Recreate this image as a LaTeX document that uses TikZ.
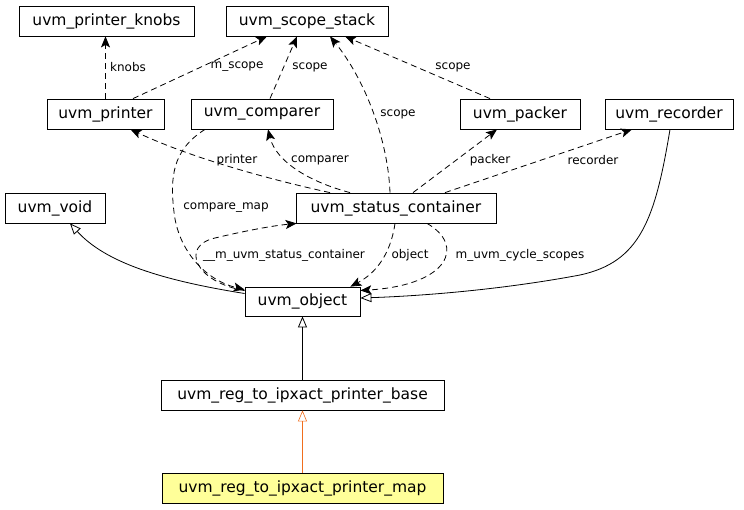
\documentclass[tikz,border=0pt]{standalone}
\usepackage{fontspec}
\setmainfont{DejaVu Sans}
\usetikzlibrary{arrows.meta}
\definecolor{mapfill}{RGB}{255,255,153}
\definecolor{inhorange}{RGB}{240,110,30}

\begin{document}
\begin{tikzpicture}[x=1pt, y=-1pt,
        cls/.style={draw, rectangle, fill=white, minimum height=30pt, inner sep=0pt, line width=0.8pt, font=\fontsize{15.5}{18}\selectfont},
        lbl/.style={inner sep=1pt, font=\fontsize{12}{14}\selectfont},
        member/.style={draw, line width=0.8pt, dash pattern=on 6pt off 4pt, -{Stealth[length=11pt, width=9pt, inset=2.5pt]}},
        inherit/.style={draw, line width=0.8pt, -{Triangle[open, length=11pt, width=9pt]}}]

        \useasboundingbox (0,0) rectangle (744,509);

        % classes
        \node [cls, minimum width=175pt] (knobs) at (106.5,21) {uvm\_printer\_knobs};
        \node [cls, minimum width=162pt] (scopestack) at (307,21) {uvm\_scope\_stack};
        \node [cls, minimum width=117pt] (printer) at (105.5,114) {uvm\_printer};
        \node [cls, minimum width=142pt] (comparer) at (262,114) {uvm\_comparer};
        \node [cls, minimum width=120pt] (packer) at (520,114) {uvm\_packer};
        \node [cls, minimum width=128pt] (recorder) at (669,114) {uvm\_recorder};
        \node [cls, minimum width=100pt] (void) at (55,208) {uvm\_void};
        \node [cls, minimum width=200pt] (status) at (396,208) {uvm\_status\_container};
        \node [cls, minimum width=115pt, minimum height=29pt] (object) at (302.5,301.5) {uvm\_object};
        \node [cls, minimum width=283pt] (base) at (302.5,395) {uvm\_reg\_to\_ipxact\_printer\_base};
        \node [cls, minimum width=281pt, fill=mapfill] (map) at (302.5,488) {uvm\_reg\_to\_ipxact\_printer\_map};

        % members
        \path [member] (printer.north) -- (printer.north |- knobs.south);
        \path [member] ([xshift=27.5pt]printer.north) -- ([xshift=-40pt]scopestack.south);
        \path [member] ([xshift=8pt]comparer.north) -- ([xshift=-10pt]scopestack.south);
        \path [member] ([xshift=-30pt]packer.north) -- ([xshift=38pt]scopestack.south);
        \path [member] ([xshift=-6pt]status.north) .. controls +(-2,-53) and +(35,43) .. ([xshift=23pt]scopestack.south);
        \path [member] ([xshift=-66pt]status.north) .. controls (290,184) and (200,162) .. ([xshift=25pt]printer.south);
        \path [member] ([xshift=-46pt]status.north) .. controls (310,182) and (276,162) .. ([xshift=6pt]comparer.south);
        \path [member] ([xshift=17pt]status.north) -- ([xshift=-23pt]packer.south);
        \path [member] ([xshift=49pt]status.north) -- ([xshift=-37pt]recorder.south);
        \path [member] ([xshift=-57pt]comparer.south) .. controls (172,150) and (170,178) .. (174,212)
            .. controls (178,250) and (205,280) .. ([yshift=-3pt]object.north west);
        \path [member] ([yshift=-4pt]object.north west) .. controls (195,282) and (180,246) .. (215,238)
            .. controls (240,232) and (270,226) .. ([xshift=1pt]status.south west);
        \path [member] ([xshift=-1pt]status.south) .. controls (392,245) and (382,270) .. ([xshift=-10pt]object.north east);
        \path [member] ([xshift=31pt]status.south) .. controls (465,245) and (450,285) .. ([yshift=11pt]object.east);

        % member labels
        \node [lbl] (lknobs) at (128,67) {knobs};
        \node [lbl] (lmscope) at (237,67) {m\_scope};
        \node [lbl] (lscopea) at (310,67) {scope};
        \node [lbl] (lscopeb) at (398,114) {scope};
        \node [lbl] (lscopec) at (453,67) {scope};
        \node [lbl] (lprinter) at (237,160) {printer};
        \node [lbl] (lcomparer) at (320,160) {comparer};
        \node [lbl] (lpacker) at (490,160) {packer};
        \node [lbl] (lrecorder) at (593,160) {recorder};
        \node [lbl] (lcmap) at (226,208) {compare\_map};
        \node [lbl] (lstatus) at (284,255) {\_\_m\_uvm\_status\_container};
        \node [lbl] (lobject) at (410,255) {object};
        \node [lbl] (lcycle) at (520,255) {m\_uvm\_cycle\_scopes};

        % inheritance
        \path [inherit] ([yshift=8pt]object.west) .. controls (160,280) and (105,262) .. ([xshift=15pt]void.south);
        \path [inherit] ([xshift=1pt]recorder.south) .. controls (655,220) and (640,262) .. (580,275)
            .. controls (500,290) and (420,296) .. ([yshift=3.5pt]object.east);
        \path [inherit] (base) -- (object);
        \path [inherit, draw=inhorange, line width=0.6pt] (map) -- (base);
    \end{tikzpicture}
\end{document}
